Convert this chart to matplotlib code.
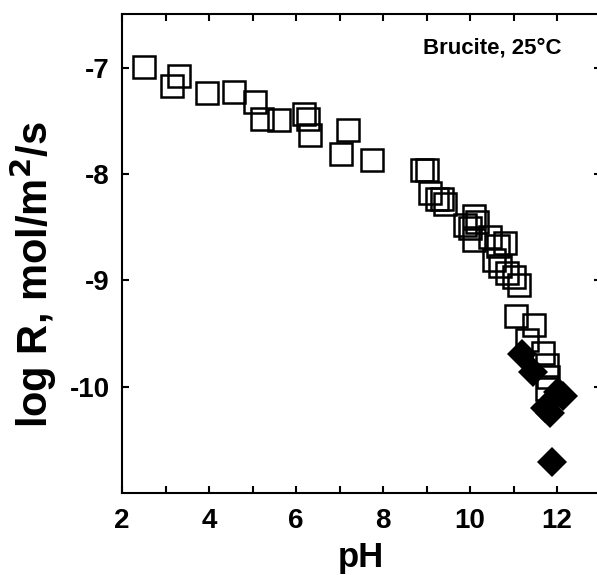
# Brucite dissolution rate vs pH

import matplotlib
matplotlib.use('Agg')
import matplotlib.pyplot as plt
from matplotlib.ticker import MultipleLocator, FixedLocator

plt.rcParams['font.family'] = ['Liberation Sans', 'DejaVu Sans']
plt.rcParams['font.weight'] = 'bold'
plt.rcParams['axes.unicode_minus'] = False

# open squares
sq_ph = [2.51, 3.14, 3.30, 3.96, 4.57, 5.06, 5.21, 5.60, 6.19, 6.28, 6.31, 7.20, 7.03, 7.74,
         8.89, 9.00, 9.08, 9.23, 9.35, 9.43, 10.08, 9.89, 10.00, 10.15, 10.08, 10.46,
         10.65, 10.80, 10.54, 10.69, 10.84, 11.00, 11.13, 11.06, 11.47, 11.32, 11.67,
         11.78, 11.80, 11.76]
sq_logr = [-6.99, -7.17, -7.08, -7.24, -7.23, -7.32, -7.48, -7.49, -7.44, -7.48, -7.63, -7.59,
           -7.81, -7.87, -7.96, -7.96, -8.18, -8.24, -8.24, -8.28, -8.40, -8.48, -8.51,
           -8.45, -8.62, -8.59, -8.68, -8.65, -8.81, -8.87, -8.93, -8.97, -9.04, -9.34,
           -9.42, -9.56, -9.68, -9.80, -9.91, -10.02]

# filled diamonds
dm_ph = [11.19, 11.44, 12.13, 12.02, 11.72, 11.84, 11.88]
dm_logr = [-9.69, -9.86, -10.09, -10.05, -10.20, -10.25, -10.71]

y_ticks = [-7, -8, -9, -10]

fig = plt.figure(figsize=(5.97, 5.75), dpi=100)
ax = fig.add_axes([0.2044, 0.1428, 1.0059 - 0.2044, 0.9748 - 0.1428])

ax.plot(sq_ph, sq_logr, 's', ms=16, mfc='none', mec='black', mew=1.8)
ax.plot(dm_ph, dm_logr, 'D', ms=15.5, mfc='black', mec='black', mew=0)

ax.set_xlim(2, 13)
ax.set_ylim(-11, -6.5)
ax.xaxis.set_major_locator(MultipleLocator(2))
ax.xaxis.set_minor_locator(MultipleLocator(1))
ax.yaxis.set_major_locator(FixedLocator(y_ticks))
ax.tick_params(which='both', direction='in', top=True, right=True,
               length=5, width=1.5, labelsize=20)
ax.tick_params(axis='x', pad=11)
ax.tick_params(axis='y', pad=9)
for s in ax.spines.values():
    s.set_linewidth(1.5)

ax.set_xlabel('pH', fontsize=25, fontweight='bold', labelpad=5)
# y label placed by hand so its centre matches the reference
fig.text(33 / 597, 1 - 275 / 575, 'log R, mol/m$^\\mathbf{2}$/s', rotation=90,
         ha='center', va='center', fontsize=30, fontweight='bold')
ax.text(0.9175, 0.951, 'Brucite, 25°C', transform=ax.transAxes, ha='right', va='top',
        fontsize=16, fontweight='bold')

fig.savefig('out.png', dpi=100)
